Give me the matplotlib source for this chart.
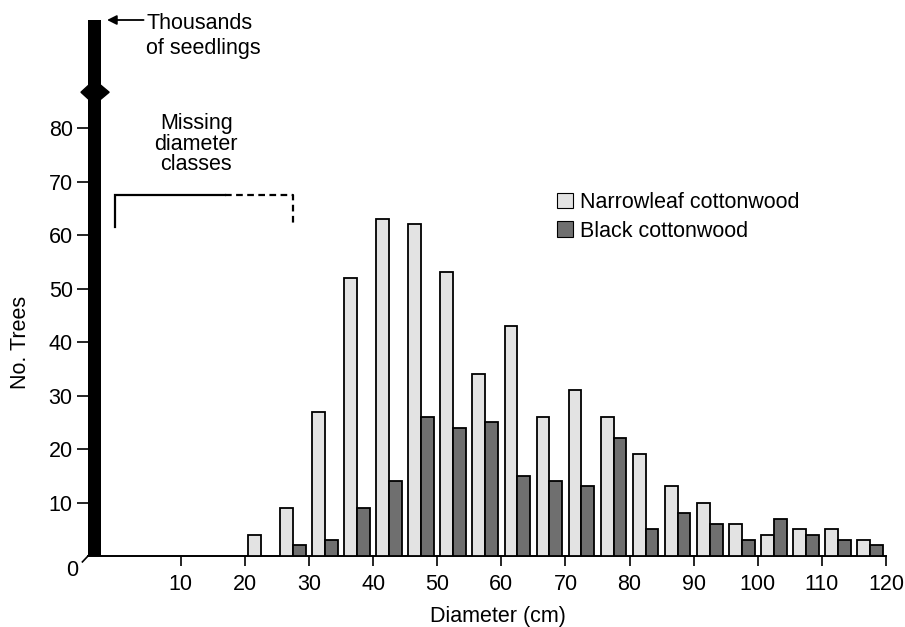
import matplotlib
matplotlib.use("Agg")
import matplotlib.pyplot as plt
from matplotlib.patches import Patch, Polygon
import numpy as np

plt.rcParams['font.family'] = ['Liberation Sans', 'DejaVu Sans']

# ---- data ----
class_centers = [22.5, 27.5, 32.5, 37.5, 42.5, 47.5, 52.5, 57.5, 62.5, 67.5,
                 72.5, 77.5, 82.5, 87.5, 92.5, 97.5, 102.5, 107.5, 112.5, 117.5]
narrowleaf = [4, 9, 27, 52, 63, 62, 53, 34, 43, 26, 31, 26, 19, 13, 10, 6, 4, 5, 5, 3]
black_cw = [0, 2, 3, 9, 14, 26, 24, 25, 15, 14, 13, 22, 5, 8, 6, 3, 7, 4, 3, 2]
series_names = ["Narrowleaf cottonwood", "Black cottonwood"]
x_ticks = [10, 20, 30, 40, 50, 60, 70, 80, 90, 100, 110, 120]
y_ticks = [10, 20, 30, 40, 50, 60, 70, 80]

# ---- styling / layout ----
FS = 15.5
C_NARROW = "#e3e3e3"
C_BLACK = "#6f6f6f"
BAR_W = 2.0
XMIN, XMAX = -4.47, 120
YMAX = 100.2

fig = plt.figure(figsize=(9.05, 6.27), dpi=100)
ax = fig.add_axes([88/905, 71/627, 798/905, 536/627])

xc = np.array(class_centers)
ax.bar(xc - BAR_W/2, narrowleaf, width=BAR_W, color=C_NARROW, edgecolor="black",
       linewidth=1.3, zorder=3)
nz = np.array(black_cw) > 0
ax.bar((xc + BAR_W/2)[nz], np.array(black_cw)[nz], width=BAR_W, color=C_BLACK,
       edgecolor="black", linewidth=1.3, zorder=3)

# seedlings bar (off-scale, thousands)
ax.bar([XMIN], [YMAX], width=BAR_W, align="edge", color="black", zorder=4,
       clip_on=False)
# break symbol on seedling bar
bx = XMIN + BAR_W/2
by = 86.7
dia = Polygon([[bx - 2.1, by], [bx, by + 2.3], [bx + 2.3, by], [bx, by - 2.3]],
              closed=True, color="black", zorder=5, clip_on=False)
ax.add_patch(dia)

ax.set_xlim(XMIN, XMAX)
ax.set_ylim(0, YMAX)

ax.spines['top'].set_visible(False)
ax.spines['right'].set_visible(False)
ax.spines['left'].set_visible(False)
ax.spines['bottom'].set_linewidth(1.4)

ax.set_xticks(x_ticks)
ax.set_xticklabels([str(t) for t in x_ticks], fontsize=FS)
ax.set_yticks(y_ticks)
ax.set_yticklabels([str(t) for t in y_ticks], fontsize=FS)
ax.tick_params(axis='x', direction='out', length=7, width=1.2, pad=6)
ax.tick_params(axis='y', direction='out', length=8, width=1.2, pad=3)

ax.set_xlabel("Diameter (cm)", fontsize=FS)
ax.xaxis.set_label_coords((498-88)/798, (556-606)/536)
ax.set_ylabel("No. Trees", fontsize=FS)
ax.yaxis.set_label_coords((31-88)/798, 40/YMAX)

# origin label
ax.text((72-88)/798, (556-571)/536, "0", transform=ax.transAxes, fontsize=FS,
        ha="center", va="center")
ax.plot([-0.007, 0.0], [-0.011, 0.0], transform=ax.transAxes, color="black",
        lw=1.2, clip_on=False)

# missing diameter classes annotation
ax.text(12.4, 77.0, "Missing\ndiameter\nclasses", fontsize=FS, ha="center",
        va="center", linespacing=0.98)
ax.plot([-0.27, -0.27, 16.9], [61.5, 67.5, 67.5], color="black", lw=1.6,
        solid_joinstyle="miter")
ax.plot([16.9, 27.5, 27.5], [67.5, 67.5, 61.5], color="black", lw=1.6,
        linestyle=(0, (3, 2)))

# thousands of seedlings annotation
ax.annotate("", xy=(-1.5, YMAX), xytext=(4.2, YMAX),
            arrowprops=dict(arrowstyle="-|>", color="black", lw=1.3,
                            mutation_scale=14, shrinkA=0, shrinkB=0),
            annotation_clip=False)
ax.text(4.6, 97.2, "Thousands\nof seedlings", fontsize=FS, ha="left",
        va="center", linespacing=1.2, clip_on=False)

handles = [Patch(facecolor=C_NARROW, edgecolor="black", linewidth=0.8),
           Patch(facecolor=C_BLACK, edgecolor="black", linewidth=0.8)]
leg = ax.legend(handles, series_names, loc="upper left", fontsize=FS,
                frameon=False, handlelength=0.75, handleheight=0.75,
                handletextpad=0.3, labelspacing=0.35, borderpad=0,
                borderaxespad=0,
                bbox_to_anchor=((557-88)/798, (556-192)/536))

fig.savefig("out.png", dpi=100)
